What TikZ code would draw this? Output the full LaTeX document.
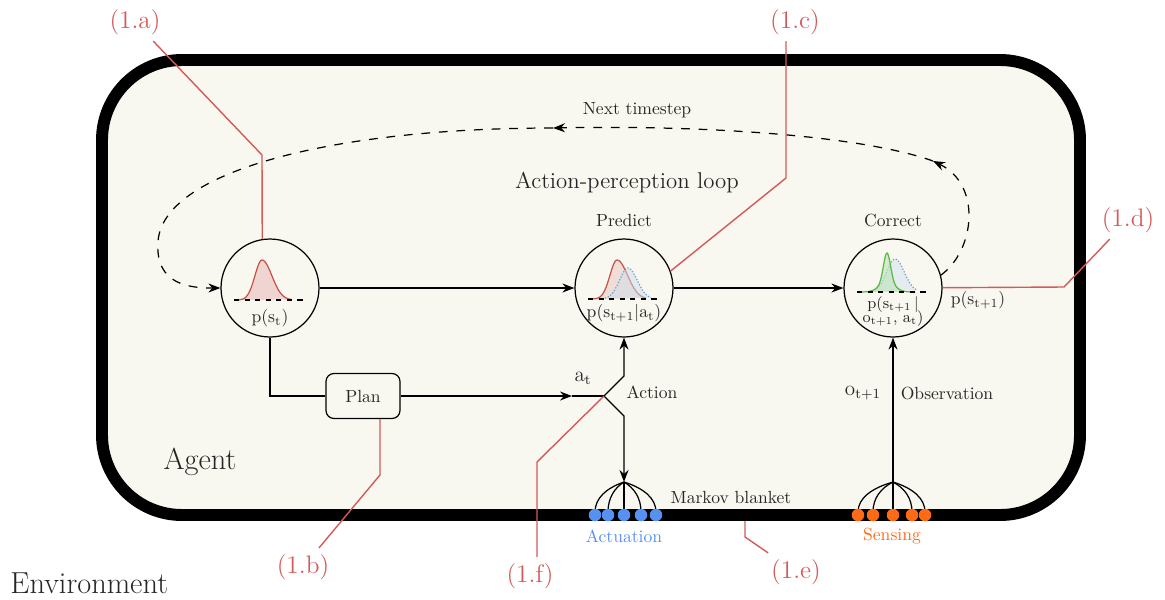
\documentclass[tikz,border=0pt]{standalone}
\usetikzlibrary{arrows.meta,positioning}

\definecolor{agentbg}{RGB}{249,248,240}
\definecolor{annotred}{RGB}{212,90,90}
\definecolor{actblue}{RGB}{86,144,240}
\definecolor{sensorange}{RGB}{255,106,22}
\definecolor{priorred}{RGB}{196,84,72}
\definecolor{predblue}{RGB}{108,160,204}
\definecolor{postgreen}{RGB}{88,184,72}

\begin{document}
\begin{tikzpicture}[x=0.02cm, y=-0.02cm, line width=0.7pt, text=black!85, >={Stealth[length=2.4mm,width=1.8mm]}]
    \tikzstyle{belief} = [circle, draw, minimum size=1.96cm, inner sep=0pt]
    \tikzstyle{planbox} = [draw, rounded corners=0.16cm, minimum width=1.48cm, minimum height=0.9cm]
    \tikzstyle{annot} = [draw=annotred, line width=0.8pt]
    \tikzstyle{calloutlbl} = [text=annotred, font=\Large]
    \tikzstyle{looppath} = [dash pattern=on 5pt off 5pt]
    \tikzstyle{actdot} = [circle, fill=actblue, minimum size=0.25cm, inner sep=0pt]
    \tikzstyle{sensdot} = [circle, fill=sensorange, minimum size=0.25cm, inner sep=0pt]

    \useasboundingbox (0,0) rectangle (1165,599);

    % Agent boundary (Markov blanket)
    \draw[line width=6.8pt, rounded corners=1.6cm, fill=agentbg] (102,60) rectangle (1080,515);

    % Belief nodes
    \node[belief] (st) at (270,288) {};
    \node[belief] (pred) at (624,288) {};
    \node[belief] (corr) at (893,288) {};
    \node (predlbl) [above=1mm of pred] {Predict};
    \node (corrlbl) [above=1mm of corr] {Correct};

    % Prior density p(s_t)
    \begin{scope}[shift={(st)}]
        \draw[priorred, fill=priorred!25] plot[domain=-24:0, samples=25] ({-8+\x},{12-40*exp(-(\x/10)*(\x/10))}) -- plot[domain=0:30, samples=25] ({-8+\x},{12-40*exp(-(\x/14)*(\x/14))});
        \draw[dashed] (-36,12) -- (36,12);
        \node (stp) at (0,30) {p(s$_\mathrm{t}$)};
    \end{scope}

    % Predicted density
    \begin{scope}[shift={(pred)}]
        \draw[priorred, fill=priorred!30, fill opacity=0.6] plot[domain=-24:0, samples=25] ({-7+\x},{11-39*exp(-(\x/10)*(\x/10))}) -- plot[domain=0:29, samples=25] ({-7+\x},{11-39*exp(-(\x/15)*(\x/15))});
        \draw[predblue, densely dotted, fill=predblue!35, fill opacity=0.5] plot[domain=-26:0, samples=25] ({4+\x},{11-31*exp(-(\x/12)*(\x/12))}) -- plot[domain=0:23, samples=25] ({4+\x},{11-31*exp(-(\x/13)*(\x/13))});
        \draw[dashed] (-36,11) -- (36,11);
        \node (predp) at (0,25) {p(s$_\mathrm{t+1}$|a$_\mathrm{t}$)};
    \end{scope}

    % Corrected density
    \begin{scope}[shift={(corr)}]
        \draw[predblue, densely dotted, fill=predblue!30, fill opacity=0.5] plot[domain=-26:0, samples=25] ({2+\x},{4-33*exp(-(\x/12)*(\x/12))}) -- plot[domain=0:22, samples=25] ({2+\x},{4-33*exp(-(\x/13)*(\x/13))});
        \draw[postgreen, fill=postgreen!40, fill opacity=0.6] plot[domain=-25:28, samples=60] ({-6+\x},{4-30*exp(-(\x/5)*(\x/5))-9*exp(-(\x/11)*(\x/11))});
        \draw[dashed] (-36,4) -- (36,4);
        \node[font=\small] (corrp1) at (0,17) {p(s$_\mathrm{t+1}$\,|};
        \node[font=\small] (corrp2) at (0,31) {o$_\mathrm{t+1}$, a$_\mathrm{t}$)};
    \end{scope}
    \node (postp) at (978,300) {p(s$_\mathrm{t+1}$)};

    % Plan and action junction
    \node[planbox] (plan) at (363,396) {Plan};
    \coordinate (jn) at (604,396);
    \coordinate (atip) at (572,396);
    \coordinate (jnu) at (624,376);
    \coordinate (jnd) at (624,416);
    \coordinate (afan) at (624,482);
    \coordinate (sfan) at (893,482);

    \draw[->] (st) -- (pred);
    \draw[->] (pred) -- (corr);
    \draw (st) |- (plan);
    \draw[->] (plan) -- (atip);
    \draw (atip) -- (jn);
    \draw[->] (jn) -- (jnu) -- (pred);
    \draw[->] (jn) -- (jnd) -- (afan);
    \draw[->] (sfan) -- (corr);

    \node[font=\large] (atlbl) at (583,378) {a$_\mathrm{t}$};
    \node (actlbl) at (652,392) {Action};
    \node[font=\large] (otlbl) at (863,393) {o$_\mathrm{t+1}$};
    \node (obslbl) at (947,393) {Observation};

    % Next timestep loop
    \coordinate (nt1) at (933,161);
    \coordinate (nt2) at (553,128);
    \coordinate (lpw) at (158,242);
    \draw[looppath, ->] (corr.15) .. controls (975,250) and (982,185) .. (nt1);
    \draw[looppath, ->] (nt1) .. controls (860,135) and (700,125) .. (nt2);
    \draw[looppath, ->] (nt2) .. controls (330,128) and (162,172) .. (lpw) .. controls (155,285) and (190,288) .. (st);
    \node (ntlbl) at (637,110) {Next timestep};
    \node[font=\fontsize{13}{15}\selectfont] (aplbl) at (627,183) {Action-perception loop};

    % Actuators and sensors on the blanket
    \foreach \i/\xx in {1/595,2/608,3/624,4/641,5/656}
        \draw (afan) .. controls +({0.6*(\xx-624)},6) and +(0,-14) .. (\xx,512);
    \foreach \i/\xx in {1/858,2/873,3/893,4/912,5/925}
        \draw (sfan) .. controls +({0.6*(\xx-893)},6) and +(0,-14) .. (\xx,512);
    \foreach \i/\xx in {1/595,2/608,3/624,4/641,5/656}
        \node[actdot] (act\i) at (\xx,515) {};
    \foreach \i/\xx in {1/858,2/873,3/893,4/912,5/925}
        \node[sensdot] (sens\i) at (\xx,515) {};
    \node[text=actblue] (actulbl) at (624,536) {Actuation};
    \node[text=sensorange] (senslbl) at (892,536) {Sensing};
    \node (mblbl) at (731,497) {Markov blanket};

    \node[font=\LARGE] (agentlbl) at (200,462) {Agent};
    \node[font=\LARGE, anchor=west] (envlbl) at (4,583) {Environment};

    % Annotations
    \node[calloutlbl] (la) at (135,22) {(1.a)};
    \node[calloutlbl] (lb) at (303,567) {(1.b)};
    \node[calloutlbl] (lc) at (795,22) {(1.c)};
    \node[calloutlbl] (ld) at (1128,220) {(1.d)};
    \node[calloutlbl] (le) at (796,572) {(1.e)};
    \node[calloutlbl] (lf) at (530,576) {(1.f)};

    \coordinate (ka) at (262,155);
    \coordinate (kb) at (380,475);
    \coordinate (kc) at (786,178);
    \coordinate (kd) at (1064,287);
    \coordinate (ke0) at (745,521);
    \coordinate (ke) at (745,537);
    \coordinate (kf) at (537,462);

    \draw[annot] (la) -- (ka) -- (st.99);
    \draw[annot] (plan.south -| kb) -- (kb) -- (lb);
    \draw[annot] (lc.south -| kc) -- (kc) -- (pred.20);
    \draw[annot] (ld) -- (kd) -- (corr);
    \draw[annot] (ke0) -- (ke) -- (le);
    \draw[annot] (jn) -- (kf) -- (kf |- lf.north);
\end{tikzpicture}
\end{document}
